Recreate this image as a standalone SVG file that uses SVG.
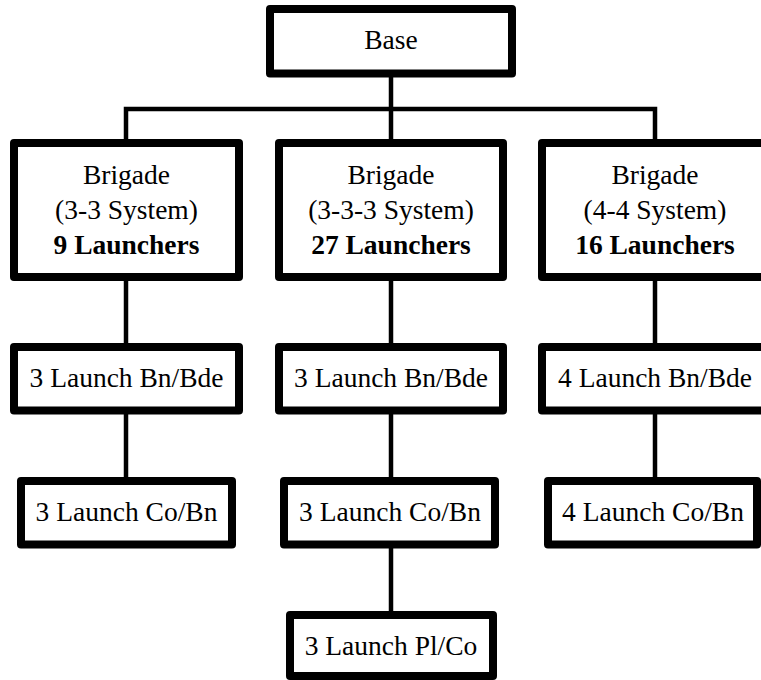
<svg xmlns="http://www.w3.org/2000/svg" width="761" height="680" viewBox="0 0 761 680">
<style>
.box{fill:#fff;stroke:#000;stroke-width:8;stroke-linejoin:round}
.t{font-family:'Liberation Serif','Times New Roman',Tinos,'DejaVu Serif',serif;font-size:27.5px;fill:#000;text-anchor:middle}
.b{font-weight:bold}
.c{fill:none;stroke:#000;stroke-width:4.5;stroke-linejoin:miter}
</style>
<rect width="761" height="680" fill="#fff"/>
<g id="connectors">
<path class="c" d="M391,77 V109"/>
<path class="c" d="M126,141 V109 H655 V141"/>
<path class="c" d="M391,109 V141"/>
<path class="c" d="M126,281 V343"/>
<path class="c" d="M391,281 V343"/>
<path class="c" d="M655,281 V343"/>
<path class="c" d="M126,414 V477"/>
<path class="c" d="M391,414 V477"/>
<path class="c" d="M655,414 V477"/>
<path class="c" d="M391,548 V611"/>
</g>
<g id="base">
<rect class="box" x="270" y="9" width="242" height="64.5"/>
<text class="t" font-family="Liberation Serif, serif" x="391" y="49">Base</text>
</g>
<g id="brigade33">
<rect class="box" x="14" y="143" width="225" height="134"/>
<text class="t" font-family="Liberation Serif, serif" x="126.5" y="184">Brigade</text>
<text class="t" font-family="Liberation Serif, serif" x="126.5" y="219">(3-3 System)</text>
<text class="t b" font-family="Liberation Serif, serif" x="126.5" y="254">9 Launchers</text>
</g>
<g id="brigade333">
<rect class="box" x="279" y="143" width="224" height="134"/>
<text class="t" font-family="Liberation Serif, serif" x="391" y="184">Brigade</text>
<text class="t" font-family="Liberation Serif, serif" x="391" y="219">(3-3-3 System)</text>
<text class="t b" font-family="Liberation Serif, serif" x="391" y="254">27 Launchers</text>
</g>
<g id="brigade44">
<rect class="box" x="542" y="143" width="225" height="134"/>
<text class="t" font-family="Liberation Serif, serif" x="655" y="184">Brigade</text>
<text class="t" font-family="Liberation Serif, serif" x="655" y="219">(4-4 System)</text>
<text class="t b" font-family="Liberation Serif, serif" x="655" y="254">16 Launchers</text>
</g>
<g id="bn33">
<rect class="box" x="14" y="347" width="225" height="63.5"/>
<text class="t" font-family="Liberation Serif, serif" x="126.5" y="387">3 Launch Bn/Bde</text>
</g>
<g id="bn333">
<rect class="box" x="279" y="347" width="224" height="63.5"/>
<text class="t" font-family="Liberation Serif, serif" x="391" y="387">3 Launch Bn/Bde</text>
</g>
<g id="bn44">
<rect class="box" x="542" y="347" width="225" height="63.5"/>
<text class="t" font-family="Liberation Serif, serif" x="655" y="387">4 Launch Bn/Bde</text>
</g>
<g id="co33">
<rect class="box" x="21" y="481" width="211" height="63.5"/>
<text class="t" font-family="Liberation Serif, serif" x="126.5" y="521">3 Launch Co/Bn</text>
</g>
<g id="co333">
<rect class="box" x="284" y="481" width="211" height="63.5"/>
<text class="t" font-family="Liberation Serif, serif" x="390" y="521">3 Launch Co/Bn</text>
</g>
<g id="co44">
<rect class="box" x="548" y="481" width="209" height="63.5"/>
<text class="t" font-family="Liberation Serif, serif" x="653" y="521">4 Launch Co/Bn</text>
</g>
<g id="pl333">
<rect class="box" x="290" y="615" width="203" height="61"/>
<text class="t" font-family="Liberation Serif, serif" x="391" y="655">3 Launch Pl/Co</text>
</g>
</svg>
